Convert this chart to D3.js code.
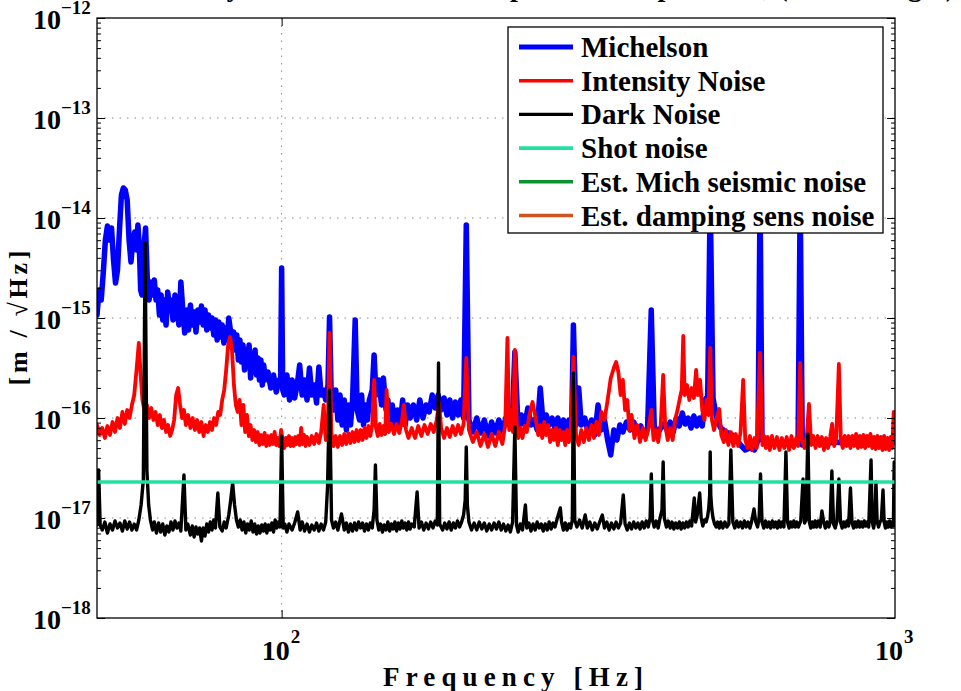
<!DOCTYPE html>
<html><head><meta charset="utf-8">
<script src="https://cdn.jsdelivr.net/npm/d3@7"></script>
<style>body{margin:0;background:#fff}svg{display:block}</style>
</head><body><svg id="chart" width="961" height="691"></svg>
<script>
// Data: [frequency (Hz), log10 of amplitude spectral density (m/sqrt(Hz))]
const michelsonLogASD = [[50.0,-14.97],[50.4,-14.72],[50.8,-14.82],[51.2,-14.54],[51.6,-14.22],[52.0,-14.08],[52.4,-14.22],[52.8,-14.10],[53.2,-14.42],[53.6,-14.65],[54.0,-14.52],[54.4,-14.12],[54.8,-13.77],[55.2,-13.70],[55.6,-13.72],[56.0,-13.82],[56.4,-14.22],[56.8,-14.44],[57.2,-14.22],[57.6,-14.14],[58.0,-14.32],[58.3,-14.07],[58.6,-14.27],[58.9,-14.72],[59.2,-14.77],[59.6,-14.32],[60.0,-14.10],[60.4,-14.62],[60.8,-14.82],[61.2,-14.64],[61.6,-14.77],[62.0,-14.62],[62.4,-14.82],[62.8,-14.72],[63.2,-14.97],[63.6,-14.77],[64.0,-15.02],[64.4,-14.82],[64.8,-15.07],[65.2,-14.74],[65.6,-14.87],[66.0,-14.82],[66.5,-15.02],[67.0,-14.77],[67.5,-14.92],[68.0,-15.07],[68.5,-14.64],[69.0,-14.92],[69.5,-15.15],[70.0,-14.92],[70.5,-15.12],[71.0,-14.87],[71.5,-15.07],[72.0,-14.94],[72.5,-15.14],[73.0,-14.92],[73.5,-15.04],[74.0,-14.88],[74.5,-15.07],[75.0,-14.92],[75.5,-15.12],[76.0,-14.97],[76.5,-15.10],[77.0,-15.00],[77.5,-15.17],[78.0,-15.02],[78.5,-15.22],[79.0,-15.04],[79.5,-15.19],[80.0,-15.07],[80.5,-15.25],[81.0,-15.10],[81.5,-15.22],[82.0,-15.00],[82.5,-15.12],[83.0,-15.27],[83.5,-15.14],[84.0,-15.32],[84.5,-15.17],[85.0,-15.42],[85.5,-15.22],[86.0,-15.44],[86.5,-15.27],[87.0,-15.52],[87.5,-15.32],[88.0,-15.42],[88.5,-15.27],[89.0,-15.60],[89.5,-15.37],[90.0,-15.54],[90.5,-15.32],[91.0,-15.57],[91.5,-15.40],[92.0,-15.62],[92.5,-15.42],[93.0,-15.67],[93.5,-15.47],[94.0,-15.62],[95.0,-15.54],[96.0,-15.70],[97.0,-15.57],[98.0,-15.74],[99.0,-15.62],[99.6,-15.67],[100.0,-14.50],[100.4,-15.72],[101,-15.77],[102,-15.57],[103,-15.82],[104,-15.62],[105,-15.80],[106,-15.67],[107,-15.47],[108,-15.77],[109,-15.62],[110,-15.82],[111,-15.50],[112,-15.77],[113,-15.67],[114,-15.85],[115,-15.49],[116,-15.77],[117,-15.72],[118,-15.82],[119,-15.67],[119.7,-14.99],[120.5,-15.82],[121.5,-15.92],[122.5,-15.72],[123.5,-16.02],[124.5,-15.77],[125.5,-16.07],[126.5,-15.82],[127.5,-16.12],[128.5,-15.87],[129.5,-16.07],[130.5,-15.82],[131.8,-15.02],[132.8,-15.92],[134,-16.02],[135,-15.77],[136,-16.07],[137,-15.87],[138,-16.02],[139,-15.82],[140.5,-15.72],[141.5,-15.37],[142.5,-15.77],[144,-15.62],[145.5,-15.87],[146.5,-15.60],[148,-15.92],[149,-15.82],[150,-16.02],[151.5,-15.87],[153,-16.10],[154.5,-15.92],[156,-16.07],[157.5,-15.82],[159,-16.07],[160.5,-15.87],[162,-16.00],[164,-15.87],[166,-16.02],[168,-15.82],[170,-16.00],[172,-15.87],[174,-15.94],[176,-15.77],[178,-15.90],[180,-15.77],[182,-15.92],[184,-15.80],[186,-15.97],[188,-15.82],[190,-16.00],[192,-15.84],[194,-15.97],[196,-15.82],[198,-16.00],[200,-14.07],[202,-16.02],[205,-16.14],[208,-16.00],[211,-16.15],[214,-16.02],[217,-16.18],[220,-16.04],[223,-16.15],[226,-16.02],[229,-16.14],[232,-16.00],[235,-16.07],[238,-15.94],[240,-15.34],[243,-16.12],[246,-15.97],[249,-16.07],[252,-15.90],[255,-16.07],[258,-16.02],[261,-16.12],[264,-15.70],[267,-16.07],[270,-15.97],[273,-16.07],[276,-16.00],[279,-16.10],[282,-16.00],[285,-16.12],[288,-16.02],[291,-16.14],[294,-16.02],[297,-16.12],[299,-15.07],[302,-16.07],[305,-15.70],[308,-16.07],[312,-16.00],[316,-16.14],[320,-16.02],[324,-16.17],[328,-15.87],[332,-16.12],[336,-16.02],[340,-16.22],[344,-16.37],[348,-16.12],[352,-16.22],[356,-16.07],[360,-16.14],[365,-16.04],[370,-16.12],[375,-16.04],[380,-16.14],[385,-16.08],[390,-16.18],[395,-16.10],[400.5,-14.92],[405,-16.08],[410,-16.16],[415,-16.10],[420,-16.06],[425,-16.12],[430,-16.04],[435,-16.14],[440,-16.00],[445,-16.08],[450,-15.95],[455,-16.06],[460,-16.00],[465,-16.10],[470,-15.98],[475,-16.08],[480,-16.00],[485,-16.08],[490,-15.82],[495,-15.78],[499.7,-13.80],[505,-15.80],[510,-15.95],[515,-16.05],[520,-16.10],[530,-16.14],[540,-16.16],[550,-16.20],[560,-16.27],[570,-16.32],[580,-16.30],[590,-16.32],[598,-16.22],[602.5,-13.80],[607,-16.22],[615,-16.24],[625,-16.27],[640,-16.24],[660,-16.26],[680,-16.27],[695,-16.24],[700.5,-13.80],[706,-16.27],[720,-16.24],[760,-16.26],[800,-16.24],[850,-16.26],[900,-16.24],[950,-16.26],[1000,-16.24]];

const intensityLogASD = [[50.0,-16.07],[50.5,-16.17],[51,-16.10],[51.5,-16.20],[52,-16.08],[52.5,-16.17],[53,-16.04],[53.5,-16.14],[54,-16.00],[54.5,-16.10],[55,-15.94],[55.5,-16.06],[56,-15.92],[56.5,-16.00],[57,-15.87],[57.5,-15.77],[58,-15.52],[58.5,-15.25],[58.9,-15.57],[59.3,-15.82],[59.8,-15.94],[60.3,-15.87],[60.8,-16.00],[61.3,-15.90],[61.8,-16.02],[62.3,-15.94],[62.8,-16.07],[63.3,-15.97],[63.8,-16.10],[64.3,-16.02],[64.8,-16.14],[65.3,-16.07],[65.8,-16.18],[66.3,-16.12],[66.8,-16.02],[67.3,-15.77],[67.8,-15.70],[68.3,-15.87],[68.8,-16.00],[69.3,-15.92],[69.8,-16.07],[70.4,-15.97],[71,-16.10],[71.6,-16.00],[72.2,-16.12],[72.8,-16.02],[73.4,-16.14],[74,-16.04],[74.6,-16.18],[75.2,-16.07],[75.8,-16.14],[76.4,-16.04],[77,-16.12],[77.6,-16.00],[78.2,-16.07],[78.8,-15.94],[79.4,-15.97],[80,-15.82],[80.6,-15.72],[81.2,-15.52],[81.8,-15.27],[82.4,-15.19],[83,-15.32],[83.6,-15.67],[84.2,-15.87],[84.8,-15.94],[85.4,-15.82],[86,-16.07],[86.6,-15.87],[87.2,-16.14],[87.8,-15.97],[88.4,-16.18],[89,-16.07],[89.6,-16.22],[90.2,-16.12],[90.8,-16.24],[91.4,-16.14],[92,-16.27],[92.6,-16.17],[93.2,-16.26],[93.8,-16.15],[94.4,-16.28],[95,-16.18],[95.6,-16.27],[96.2,-16.17],[96.8,-16.26],[97.4,-16.14],[98,-16.27],[98.6,-16.20],[99.2,-16.28],[99.8,-16.12],[100.4,-16.22],[101,-16.30],[101.6,-16.20],[102.2,-16.27],[102.8,-16.18],[103.4,-16.28],[104,-16.20],[104.6,-16.28],[105.2,-16.19],[105.8,-16.26],[106.4,-16.18],[107,-16.27],[107.6,-16.10],[108.2,-16.26],[108.8,-16.17],[109.4,-16.28],[110,-16.19],[111,-16.27],[112,-16.18],[113,-16.26],[114,-16.16],[115,-16.25],[116,-16.14],[117.1,-15.87],[118,-16.22],[118.9,-16.14],[119.7,-15.15],[120.5,-16.14],[121.5,-16.28],[122.5,-16.18],[123.5,-16.29],[124.5,-16.18],[125.5,-16.27],[126.5,-16.16],[127.5,-16.26],[128.5,-16.15],[129.5,-16.25],[130.5,-16.14],[131.5,-16.24],[132.5,-16.12],[133.5,-16.23],[134.5,-16.12],[135.5,-16.22],[136.5,-16.10],[137.5,-16.20],[138.5,-16.08],[139.5,-16.18],[140.5,-16.07],[141.5,-15.62],[142.5,-16.10],[143.5,-16.18],[144.5,-16.06],[145.5,-16.17],[146.5,-16.08],[147.5,-16.16],[148.3,-15.72],[149.5,-16.14],[151,-16.06],[152.5,-16.16],[154,-16.06],[155.5,-16.15],[157,-16.04],[158.2,-15.87],[159.5,-16.12],[161,-16.20],[163,-16.10],[165,-16.20],[167,-16.08],[169,-16.18],[171,-16.07],[173,-16.16],[175,-16.06],[177,-16.14],[179,-16.02],[180.5,-15.85],[182,-16.10],[184,-16.20],[186,-16.10],[188,-16.19],[190,-16.08],[192,-16.17],[194,-16.07],[196,-16.16],[198,-16.06],[200,-15.40],[202,-16.12],[205,-16.24],[208,-16.14],[211,-16.28],[214,-16.16],[217,-16.29],[220,-16.16],[223,-16.28],[226,-16.14],[229,-16.26],[231.5,-16.07],[233.4,-15.20],[235,-16.12],[236.8,-15.92],[238.3,-16.14],[240,-15.32],[241.7,-16.07],[243,-16.20],[245,-16.10],[247,-16.20],[249,-16.08],[251,-16.14],[253,-16.00],[255,-15.90],[256.5,-15.84],[258,-15.92],[260,-16.04],[262,-16.17],[264,-16.07],[266,-16.20],[268,-16.04],[270,-16.17],[272,-16.07],[274,-16.24],[276,-16.12],[278,-16.22],[280,-16.10],[282,-16.27],[284,-16.12],[286,-16.22],[288,-16.14],[290,-16.27],[292,-16.12],[294,-16.24],[296,-16.12],[299,-15.39],[302,-16.17],[305,-16.27],[308,-16.12],[311,-16.24],[314,-16.10],[317,-16.22],[320,-16.07],[323,-16.20],[326,-16.04],[329,-16.17],[332,-15.94],[336,-16.02],[340,-15.82],[344,-15.60],[348,-15.50],[351,-15.44],[354,-15.54],[357,-15.77],[360,-15.62],[363,-15.92],[366,-15.82],[369,-16.12],[372,-15.97],[376,-16.20],[380,-16.07],[384,-16.24],[388,-16.10],[392,-16.22],[396,-16.12],[400.6,-15.92],[404,-16.22],[408,-16.12],[411,-16.24],[415,-16.07],[418.8,-15.57],[422,-16.07],[426,-16.22],[430,-16.10],[434,-16.22],[438,-16.02],[442,-15.92],[446,-15.80],[449,-15.72],[451.6,-15.18],[454,-15.77],[458,-15.67],[462,-15.82],[466,-15.70],[470,-15.80],[474,-15.52],[477,-15.77],[481,-15.62],[485,-15.92],[489,-16.02],[493,-15.82],[496.5,-15.97],[499.7,-15.30],[503,-16.02],[507,-16.12],[511,-16.02],[516.8,-15.91],[521,-16.17],[526,-16.24],[530,-16.12],[535,-16.27],[540,-16.14],[545,-16.28],[550,-16.16],[555,-16.28],[560,-16.14],[565.5,-15.62],[570,-16.22],[575,-16.30],[580,-16.18],[585,-16.32],[590,-16.20],[595,-16.30],[602.5,-15.35],[608,-16.27],[612,-16.18],[616,-16.30],[620,-16.19],[625,-16.32],[630,-16.18],[636,-16.30],[642,-16.19],[648,-16.32],[654,-16.20],[660,-16.30],[666,-16.19],[672,-16.32],[678,-16.18],[684,-16.30],[690,-16.20],[695,-16.28],[700.5,-15.45],[705,-16.22],[712,-16.30],[718,-16.19],[724,-15.86],[730,-16.27],[736,-16.18],[742,-16.30],[748,-16.18],[754,-16.28],[760,-16.19],[766,-16.32],[772,-16.20],[778,-16.30],[784,-16.19],[789.7,-16.06],[796,-16.28],[802,-16.20],[810,-15.46],[816,-16.22],[822,-16.30],[828,-16.18],[834,-16.28],[840,-16.18],[846,-16.30],[852,-16.18],[858,-16.28],[864,-16.16],[870,-16.30],[876,-16.18],[882,-16.29],[888,-16.17],[894,-16.30],[900,-16.18],[906,-16.28],[912,-16.16],[918,-16.30],[924,-16.19],[930,-16.31],[936,-16.18],[942,-16.30],[948,-16.19],[954,-16.32],[960,-16.18],[966,-16.31],[972,-16.20],[978,-16.32],[984,-16.19],[990,-16.30],[995,-15.94],[1000,-16.22]];

const darkLogASD = [[50.0,-17.07],[50.3,-16.52],[50.6,-17.07],[51,-17.12],[51.5,-17.04],[52,-17.15],[52.5,-17.06],[53,-17.12],[53.5,-17.03],[54,-17.10],[54.5,-17.05],[55,-17.13],[55.5,-17.03],[56,-17.11],[56.5,-17.04],[57,-17.12],[57.5,-17.06],[58,-17.12],[58.5,-17.02],[59,-16.87],[59.5,-16.62],[59.9,-14.25],[60.3,-16.52],[60.7,-16.87],[61.1,-17.02],[61.6,-17.12],[62,-17.04],[62.5,-17.15],[63,-17.05],[63.5,-17.14],[64,-17.06],[64.5,-17.17],[65,-17.08],[65.5,-17.14],[66,-17.04],[66.5,-17.12],[67,-17.03],[67.5,-17.10],[68,-17.05],[68.5,-17.13],[69.3,-16.57],[69.8,-17.12],[70.3,-17.06],[71,-17.17],[71.5,-17.08],[72,-17.19],[72.5,-17.09],[73,-17.16],[73.5,-17.10],[74,-17.23],[74.5,-17.10],[75,-17.18],[75.5,-17.06],[76,-17.14],[76.5,-17.04],[77,-17.12],[77.5,-17.02],[78,-17.10],[78.7,-16.75],[79.3,-17.09],[80,-17.13],[80.6,-17.04],[81.2,-17.10],[82,-16.97],[82.6,-16.82],[83.2,-16.65],[83.8,-16.87],[84.4,-17.02],[85,-17.09],[85.6,-17.02],[86.2,-17.12],[86.8,-17.04],[87.4,-17.15],[88,-17.06],[88.6,-17.12],[89.2,-17.03],[89.8,-17.14],[90.4,-17.06],[91,-17.16],[91.6,-17.08],[92.2,-17.15],[92.8,-17.07],[93.4,-17.13],[94,-17.06],[94.6,-17.15],[95.2,-17.07],[95.8,-17.12],[96.4,-17.05],[97,-17.14],[97.6,-17.02],[98.2,-17.10],[98.8,-17.04],[99.4,-17.09],[100,-16.18],[100.6,-17.10],[101.2,-17.06],[102,-17.14],[102.8,-17.06],[104,-17.12],[105,-17.05],[106.2,-16.94],[107.2,-17.12],[108,-17.04],[109,-17.13],[110,-17.06],[111,-17.14],[112,-17.07],[113,-17.12],[114,-17.05],[115,-17.13],[116,-17.06],[117,-17.12],[118,-17.04],[118.8,-16.69],[119.7,-15.72],[120.6,-17.02],[121.5,-17.10],[122.5,-17.04],[123.5,-17.12],[125.2,-16.96],[126.5,-17.12],[127.5,-17.05],[128.5,-17.14],[129.5,-17.06],[130.5,-17.13],[131.5,-17.05],[132.5,-17.12],[133.5,-17.04],[134.5,-17.10],[135.5,-17.05],[136.5,-17.13],[137.5,-17.06],[138.5,-17.12],[139.5,-17.05],[140.5,-17.10],[141.5,-16.92],[142.2,-16.47],[143,-17.02],[144,-17.12],[145,-17.06],[146,-17.14],[147,-17.07],[148,-17.12],[149,-17.04],[150,-17.13],[151,-17.06],[152,-17.11],[153,-17.04],[154,-17.13],[155,-17.05],[156,-17.11],[157,-17.03],[158,-17.10],[159,-17.05],[160,-17.12],[161,-17.04],[162,-17.11],[163,-17.06],[164.5,-17.09],[166.3,-16.74],[167.5,-17.10],[169,-17.04],[170.5,-17.12],[172,-17.05],[173.5,-17.11],[175,-17.04],[176.5,-17.10],[178,-17.03],[179.4,-17.07],[180.2,-15.45],[181,-17.06],[183,-17.12],[184.5,-17.05],[186,-17.11],[187.5,-17.04],[189,-17.12],[190.5,-17.05],[192,-17.10],[193.5,-17.03],[195,-17.09],[196.5,-17.04],[198,-16.97],[199.2,-16.82],[200,-16.29],[200.8,-16.87],[202,-17.04],[204,-17.12],[206,-17.05],[208,-17.12],[210,-17.04],[212,-17.11],[214,-17.05],[216,-17.13],[218,-17.06],[220,-17.12],[222,-17.05],[224,-17.11],[226,-17.04],[228,-17.12],[230,-17.06],[232,-17.13],[234,-17.07],[236,-17.14],[238,-17.04],[240,-16.09],[241.5,-17.07],[243,-17.14],[245,-17.06],[247,-17.12],[249.7,-16.87],[251,-17.10],[253,-17.05],[255,-17.13],[257,-17.06],[259,-17.12],[261,-17.04],[263,-17.10],[265,-17.06],[267,-17.13],[269,-17.06],[271,-17.12],[273,-17.04],[275,-17.11],[277,-17.05],[279,-17.09],[281,-17.02],[284.7,-16.90],[286,-17.04],[288,-17.12],[290,-17.05],[292,-17.12],[294,-17.06],[296,-17.10],[297.8,-17.02],[299,-15.55],[300.5,-17.02],[303,-17.09],[306,-17.02],[309,-17.10],[312.6,-16.97],[315,-17.10],[318,-17.04],[321,-17.12],[324,-17.05],[327,-17.11],[330,-17.04],[333.3,-16.97],[336,-17.10],[339,-17.04],[342,-17.12],[345,-17.05],[348,-17.11],[351,-17.04],[354,-17.10],[357,-17.05],[360.6,-16.77],[363,-17.06],[366,-17.12],[369,-17.05],[372,-17.11],[375,-17.04],[378,-17.10],[381,-17.05],[384,-17.11],[387,-17.04],[390,-17.10],[393,-17.03],[396,-17.09],[398.8,-17.00],[400.6,-16.56],[402.4,-17.02],[405,-17.09],[408,-17.03],[411,-17.10],[414,-17.00],[417,-16.92],[418.8,-16.44],[420.6,-17.00],[424,-17.09],[427,-17.03],[430,-17.10],[433,-17.04],[436,-17.11],[439,-17.05],[442,-17.10],[445,-17.04],[448,-17.11],[451,-17.05],[454,-17.10],[457,-17.04],[460,-17.09],[463,-17.03],[466,-17.08],[470.7,-16.80],[473,-17.04],[476,-16.97],[480.4,-16.75],[483,-17.00],[486,-17.08],[489,-17.02],[492,-17.04],[495,-16.98],[497,-16.90],[498.7,-16.77],[499.7,-16.34],[500.8,-16.77],[502.5,-16.90],[505,-17.00],[508,-17.06],[511,-17.09],[514,-17.04],[517,-17.10],[520,-17.04],[524,-17.10],[528,-17.04],[532,-17.09],[536,-17.06],[540,-16.32],[544,-17.04],[548,-17.10],[552,-17.03],[556,-17.09],[560,-17.04],[564,-17.10],[568,-17.03],[572,-17.09],[576,-17.04],[580,-17.10],[584,-17.03],[589,-16.91],[593,-17.04],[597,-17.09],[600.5,-17.00],[603.6,-16.56],[607,-17.04],[611,-17.10],[615,-17.03],[619,-17.09],[623,-17.04],[627,-17.10],[631,-17.03],[635,-17.09],[639,-17.04],[643,-17.10],[647,-17.03],[651,-17.09],[655,-17.04],[659,-17.09],[664,-16.34],[668,-17.04],[672,-17.10],[676,-17.04],[680,-17.09],[684,-17.03],[688,-17.09],[692,-17.04],[696,-17.09],[702,-17.03],[708,-16.61],[712,-17.05],[716,-17.02],[721,-16.16],[725,-17.04],[729,-17.10],[733,-17.04],[737,-17.09],[741,-17.03],[745,-17.09],[750,-17.03],[755,-17.09],[760,-16.93],[765,-17.04],[770,-17.10],[775,-17.04],[780,-17.09],[784,-17.04],[789,-16.53],[794,-17.06],[799,-17.10],[804,-17.03],[810,-16.61],[815,-17.04],[820,-17.10],[825,-17.04],[830,-17.09],[835,-17.03],[840,-17.08],[846,-16.70],[851,-17.05],[856,-17.10],[861,-17.04],[866,-17.09],[871,-17.03],[876,-17.09],[881,-17.04],[886,-17.09],[891,-17.03],[896,-17.08],[901,-17.04],[906,-17.09],[914,-16.42],[918,-17.04],[923,-17.10],[927,-17.02],[931,-16.64],[935,-17.03],[940,-17.09],[945,-17.04],[950,-17.02],[956,-16.72],[960,-17.04],[965,-17.10],[970,-17.04],[975,-17.09],[980,-17.03],[985,-17.09],[990,-17.04],[994,-17.08],[997,-16.44],[1000,-17.07]];

const shotLogASD = [[50,-16.64],[1000,-16.64]];
const seismicLogASD = [];   // not visible within the plotted range
const dampingLogASD = [];   // not visible within the plotted range

const seriesNames = ["Michelson","Intensity Noise","Dark Noise","Shot noise","Est. Mich seismic noise","Est. damping sens noise"];
const seriesColors = ["#0000ff","#ff0000","#000000","#22e09e","#0a9430","#cc5522"];
const seriesWidths = [5.5,3.8,3.4,3.5,3.3,3.3];
const legendWidths = [5,3.6,3.4,3.6,3.6,3.6];
const seriesData = [michelsonLogASD,intensityLogASD,darkLogASD,shotLogASD,seismicLogASD,dampingLogASD];
const yDecades = [-18,-17,-16,-15,-14,-13,-12];
const xMajorTicks = [100,1000];
const xTickExp = ["2","3"];

const FONT = "'Liberation Serif','Times New Roman',serif";
const L = 97, R = 895, T = 18, B = 618;
const svg = d3.select("#chart");
const x = d3.scaleLog().domain([50,1000]).range([L,R]);
const y = d3.scaleLog().domain([1e-18,1e-12]).range([B,T]);

svg.append("defs").append("clipPath").attr("id","clip")
  .append("rect").attr("x",L).attr("y",T).attr("width",R-L).attr("height",B-T);

// title (mostly cut off at the top of the figure)
svg.append("text").attr("x",110).attr("y",-4)
  .attr("font-family",FONT).attr("font-weight","bold").attr("font-size",28)
  .attr("textLength",845).attr("lengthAdjust","spacing")
  .text("Sensitivity of the Michelson: displacement spectrum, (noise budget)");

// grid
const grid = svg.append("g").attr("stroke","#8a8a8a").attr("stroke-width",1).attr("stroke-dasharray","1.5,6");
grid.selectAll("line.gy").data(yDecades.slice(1,-1)).join("line")
  .attr("x1",L).attr("x2",R).attr("y1",d=>y(Math.pow(10,d))).attr("y2",d=>y(Math.pow(10,d)));
grid.selectAll("line.gx").data([100]).join("line")
  .attr("x1",d=>x(d)).attr("x2",d=>x(d)).attr("y1",T).attr("y2",B);

// series
const line = d3.line().x(d=>x(d[0])).y(d=>y(Math.pow(10,d[1])));
const plot = svg.append("g").attr("clip-path","url(#clip)");
seriesData.forEach((data,i)=>{
  if(!data.length) return;
  plot.append("path").datum(data).attr("d",line).attr("fill","none")
    .attr("stroke",seriesColors[i]).attr("stroke-width",seriesWidths[i])
    .attr("stroke-linejoin","round").attr("stroke-linecap","round");
});

// axes (ticks inward)
const minorY = [];
for(let e=-18;e<-12;e++) for(let m=2;m<10;m++) minorY.push(m*Math.pow(10,e));
const majorY = yDecades.map(e=>Math.pow(10,e));
function ax(g){ g.select(".domain").remove(); g.selectAll("text").remove(); g.selectAll("line").attr("stroke","#000").attr("stroke-width",1); }
svg.append("g").attr("transform",`translate(${L},0)`).call(d3.axisLeft(y).tickValues(majorY).tickSize(-8)).call(ax);
svg.append("g").attr("transform",`translate(${L},0)`).call(d3.axisLeft(y).tickValues(minorY).tickSize(-4)).call(ax);
svg.append("g").attr("transform",`translate(${R},0)`).call(d3.axisRight(y).tickValues(majorY).tickSize(-8)).call(ax);
svg.append("g").attr("transform",`translate(${R},0)`).call(d3.axisRight(y).tickValues(minorY).tickSize(-4)).call(ax);
svg.append("g").attr("transform",`translate(0,${B})`).call(d3.axisBottom(x).tickValues([100]).tickSize(-8)).call(ax);
svg.append("g").attr("transform",`translate(0,${T})`).call(d3.axisTop(x).tickValues([100]).tickSize(-8)).call(ax);

svg.append("rect").attr("x",L).attr("y",T).attr("width",R-L).attr("height",B-T)
  .attr("fill","none").attr("stroke","#000").attr("stroke-width",1.3);

// y tick labels
const yl = svg.append("g").attr("font-family",FONT).attr("font-weight","bold").attr("fill","#000");
yDecades.forEach(e=>{
  const py = y(Math.pow(10,e));
  yl.append("text").attr("x",61).attr("y",py+11).attr("text-anchor","end").attr("font-size",28).text("10");
  yl.append("text").attr("x",61).attr("y",Math.max(py-4,13)).attr("font-size",19).text("\u2212"+Math.abs(e));
});
// x tick labels
xMajorTicks.forEach((v,i)=>{
  const px = x(v);
  yl.append("text").attr("x",px+8).attr("y",660).attr("text-anchor","end").attr("font-size",28).text("10");
  yl.append("text").attr("x",px+9).attr("y",643).attr("font-size",19).text(xTickExp[i]);
});
// axis titles
svg.append("text").attr("x",513).attr("y",686).attr("text-anchor","middle")
  .attr("font-family",FONT).attr("font-weight","bold").attr("font-size",27)
  .attr("textLength",260).attr("lengthAdjust","spacing").text("Frequency [Hz]");
svg.append("text").attr("transform","translate(27,318) rotate(-90)").attr("text-anchor","middle")
  .attr("font-family",FONT).attr("font-weight","bold").attr("font-size",26)
  .attr("textLength",135).attr("lengthAdjust","spacing").text("[m / \u221AHz]");

// legend
const lg = svg.append("g");
lg.append("rect").attr("x",508).attr("y",27).attr("width",375).attr("height",206)
  .attr("fill","#fff").attr("stroke","#000").attr("stroke-width",1.3);
seriesNames.forEach((n,i)=>{
  const cy = 47 + i*33.7;
  lg.append("line").attr("x1",519).attr("x2",573).attr("y1",cy).attr("y2",cy)
    .attr("stroke",seriesColors[i]).attr("stroke-width",legendWidths[i]);
  lg.append("text").attr("x",581).attr("y",cy+10).attr("font-family",FONT)
    .attr("font-weight","bold").attr("font-size",29).text(n);
});
</script>
</body></html>
